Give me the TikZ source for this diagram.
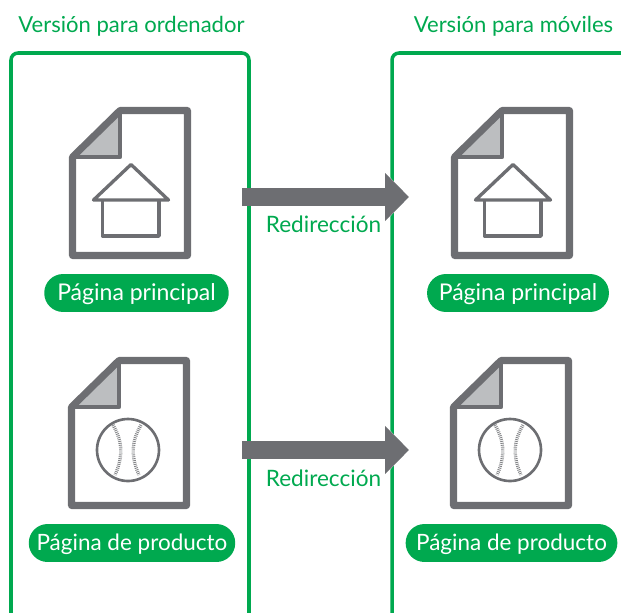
\documentclass[tikz,border=0pt]{standalone}
\usepackage{fontspec}
\setmainfont{Lato}
\usetikzlibrary{arrows.meta}
\definecolor{webgreen}{HTML}{00A94F}
\definecolor{pagegray}{HTML}{6D6E72}
\definecolor{foldgray}{HTML}{BCBEC0}
\tikzset{
    frameline/.style={draw=webgreen, line width=2pt, rounded corners=4pt},
    pageline/.style={draw=pagegray, line width=4pt, line join=round},
    iconline/.style={draw=pagegray, line width=1.9pt, line join=round},
    stitch/.style={draw=pagegray!85, line width=1.9pt, dash pattern=on 0.5pt off 0.6pt},
    pill/.style={fill=webgreen, text=white, rounded corners=10.7pt, minimum height=21.6pt, inner sep=0pt, text height=11.4pt, text depth=3pt, font=\fontsize{13.1pt}{15pt}\selectfont},
    prodpill/.style={pill, font=\fontsize{12.8pt}{15pt}\selectfont},
    greenlabel/.style={text=webgreen, inner sep=0pt, font=\fontsize{12.85pt}{15pt}\selectfont},
    headlabel/.style={greenlabel, font=\fontsize{12.55pt}{15pt}\selectfont},
    redirect/.style={draw=pagegray, line width=10.8pt, -{Triangle[length=13.6pt,width=26.6pt]}},
    halo/.style={draw=white, line width=10.8pt, -{Triangle[length=16pt,width=32pt]}},
    pagesheet/.pic={
        \fill[foldgray] (51,3.5) -- (51,50) -- (3.5,50) -- cycle;
        \draw[pageline] (51,3.5) -- (118.5,3.5) -- (118.5,148.5) -- (3.5,148.5) -- (3.5,50) -- cycle;
        \draw[draw=pagegray, line width=2.6pt, line join=round] (51,3.5) -- (51,50) -- (3.5,50);
    },
    pagehouse/.pic={
        \draw[iconline] (62,57.5) -- (99.5,93) -- (24.5,93) -- cycle;
        \draw[iconline] (33.5,93) -- (33.5,129) -- (90,129) -- (90,93);
    },
    pageball/.pic={
        \draw[draw=pagegray, line width=1.5pt] (60,93) circle (31);
        \draw[stitch] (45,68) .. controls (55,85) and (55,100) .. (47,118);
        \draw[stitch] (73,68) .. controls (63,85) and (63,100) .. (71,118);
    },
}
\begin{document}
\begin{tikzpicture}[x=0.02cm, y=-0.02cm]
    \useasboundingbox (0,0) rectangle (621,612);
    % frames
    \draw[frameline] (11,620) -- (11,53) -- (249,53) -- (249,620);
    \draw[frameline] (630,53) -- (392,53) -- (392,620);
    \node[headlabel] (deskTitle) at (131.5,26) {Versión para ordenador};
    \node[headlabel] (mobiTitle) at (513.5,26) {Versión para móviles};
    % pages
    \pic at (69,107) {pagesheet};
    \pic at (69,107) {pagehouse};
    \pic at (451,107) {pagesheet};
    \pic at (451,107) {pagehouse};
    \pic at (68,357) {pagesheet};
    \pic at (68,357) {pageball};
    \pic at (450,357) {pagesheet};
    \pic at (450,357) {pageball};
    \node[pill, minimum width=105pt] (deskHome) at (136.5,293) {Página principal};
    \node[pill, minimum width=103.5pt] (mobiHome) at (518,293) {Página principal};
    \node[prodpill, minimum width=117.5pt] (deskProd) at (132,543) {Página de producto};
    \node[prodpill, minimum width=120.5pt] (mobiProd) at (511.5,543) {Página de producto};
    % arrows
    \coordinate (homeFrom) at (242,197);
    \coordinate (homeTo) at (409,197);
    \coordinate (prodFrom) at (242,450);
    \coordinate (prodTo) at (409,450);
    \draw[halo] (homeFrom) -- (homeTo);
    \draw[halo] (prodFrom) -- (prodTo);
    \draw[redirect] (homeFrom) -- (homeTo);
    \draw[redirect] (prodFrom) -- (prodTo);
    \node[greenlabel] (homeLabel) at (323.5,224.5) {Redirección};
    \node[greenlabel] (prodLabel) at (323.5,478.5) {Redirección};
\end{tikzpicture}
\end{document}
